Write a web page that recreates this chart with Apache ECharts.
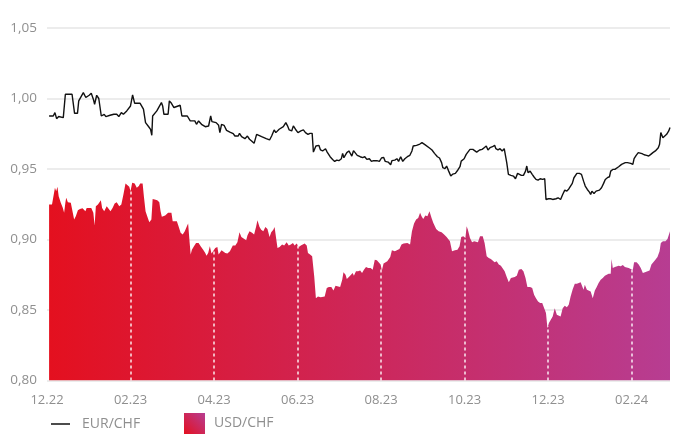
<!DOCTYPE html>
<html>
<head>
<meta charset="utf-8">
<script src="https://cdn.jsdelivr.net/npm/echarts@6/dist/echarts.min.js"></script>
<style>
html,body{margin:0;padding:0;background:#fff;}
#chart{width:677px;height:434px;}
</style>
</head>
<body>
<div id="chart"></div>
<script>
// x values: months since 01.12.2022
const xTickLabels = ['12.22','02.23','04.23','06.23','08.23','10.23','12.23','02.24'];
const yTicks = [0.80, 0.85, 0.90, 0.95, 1.00, 1.05];

const eurX = [0.05,0.15,0.19,0.23,0.28,0.39,0.44,0.47,0.60,0.66,0.73,0.76,0.87,0.93,0.97,1.01,1.06,1.11,1.14,1.19,1.24,1.30,1.37,1.41,1.51,1.60,1.67,1.72,1.78,1.83,1.91,2.00,2.05,2.10,2.23,2.31,2.36,2.44,2.48,2.51,2.53,2.63,2.74,2.77,2.80,2.90,2.93,2.98,3.04,3.19,3.23,3.36,3.43,3.47,3.54,3.58,3.63,3.70,3.79,3.87,3.92,3.95,4.05,4.11,4.14,4.18,4.24,4.30,4.38,4.46,4.50,4.58,4.61,4.66,4.74,4.80,4.85,4.90,4.96,5.02,5.06,5.14,5.25,5.33,5.38,5.44,5.48,5.56,5.66,5.72,5.76,5.80,5.86,5.90,5.95,6.01,6.08,6.14,6.19,6.25,6.30,6.35,6.38,6.44,6.51,6.55,6.60,6.67,6.71,6.78,6.84,6.89,6.94,6.99,7.05,7.08,7.11,7.15,7.18,7.23,7.27,7.30,7.34,7.38,7.43,7.50,7.56,7.61,7.66,7.72,7.77,7.82,7.90,7.96,8.01,8.06,8.10,8.17,8.23,8.26,8.33,8.38,8.42,8.47,8.52,8.57,8.63,8.69,8.74,8.77,8.85,8.93,8.98,9.05,9.09,9.16,9.22,9.28,9.35,9.40,9.45,9.48,9.53,9.57,9.62,9.67,9.72,9.78,9.84,9.89,9.92,9.99,10.04,10.08,10.13,10.20,10.24,10.29,10.36,10.42,10.47,10.52,10.56,10.61,10.67,10.72,10.75,10.80,10.85,10.90,10.95,10.98,11.01,11.05,11.11,11.17,11.22,11.27,11.31,11.36,11.41,11.46,11.49,11.52,11.57,11.62,11.66,11.71,11.76,11.81,11.87,11.92,11.95,12.01,12.06,12.11,12.14,12.19,12.24,12.30,12.35,12.40,12.45,12.50,12.53,12.58,12.62,12.69,12.75,12.80,12.85,12.89,12.94,12.99,13.02,13.05,13.10,13.15,13.23,13.28,13.33,13.37,13.42,13.47,13.50,13.55,13.60,13.64,13.69,13.76,13.80,13.85,13.90,13.93,13.98,14.03,14.06,14.11,14.16,14.20,14.25,14.30,14.36,14.41,14.46,14.51,14.57,14.64,14.67,14.70,14.73,14.75,14.79,14.84,14.89,14.92];
const eurY = [0.9876,0.9876,0.9900,0.9857,0.9872,0.9864,1.0030,1.0037,1.0030,0.9895,0.9895,0.9983,1.0042,1.0007,1.0007,1.0023,1.0037,0.9995,0.9959,1.0023,1.0000,0.9876,0.9888,0.9872,0.9881,0.9888,0.9888,0.9872,0.9900,0.9888,0.9912,0.9947,1.0026,0.9966,0.9966,0.9924,0.9829,0.9798,0.9781,0.9739,0.9876,0.9912,0.9971,0.9947,0.9888,0.9888,0.9983,0.9966,0.9936,0.9952,0.9876,0.9876,0.9841,0.9829,0.9841,0.9817,0.9841,0.9817,0.9800,0.9805,0.9876,0.9836,0.9829,0.9810,0.9758,0.9817,0.9810,0.9774,0.9762,0.9751,0.9734,0.9734,0.9753,0.9729,0.9715,0.9734,0.9711,0.9699,0.9682,0.9746,0.9758,0.9729,0.9715,0.9706,0.9734,0.9777,0.9758,0.9782,0.9801,0.9829,0.9806,0.9777,0.9770,0.9806,0.9782,0.9758,0.9770,0.9777,0.9758,0.9746,0.9753,0.9753,0.9620,0.9663,0.9668,0.9635,0.9628,0.9644,0.9620,0.9587,0.9568,0.9554,0.9563,0.9559,0.9573,0.9611,0.9580,0.9592,0.9616,0.9628,0.9620,0.9592,0.9630,0.9620,0.9597,0.9587,0.9580,0.9587,0.9568,0.9573,0.9554,0.9559,0.9559,0.9554,0.9578,0.9583,0.9554,0.9549,0.9530,0.9559,0.9563,0.9573,0.9554,0.9587,0.9554,0.9573,0.9587,0.9597,0.9628,0.9663,0.9668,0.9677,0.9687,0.9673,0.9663,0.9649,0.9635,0.9611,0.9587,0.9578,0.9545,0.9509,0.9502,0.9521,0.9485,0.9450,0.9464,0.9469,0.9493,0.9516,0.9556,0.9573,0.9604,0.9620,0.9639,0.9639,0.9635,0.9620,0.9635,0.9639,0.9651,0.9663,0.9635,0.9651,0.9658,0.9668,0.9644,0.9635,0.9644,0.9628,0.9644,0.9635,0.9545,0.9462,0.9455,0.9450,0.9431,0.9469,0.9474,0.9455,0.9455,0.9485,0.9521,0.9474,0.9485,0.9462,0.9445,0.9426,0.9421,0.9431,0.9426,0.9431,0.9284,0.9289,0.9289,0.9284,0.9296,0.9289,0.9296,0.9284,0.9319,0.9350,0.9343,0.9360,0.9350,0.9398,0.9438,0.9469,0.9469,0.9462,0.9414,0.9379,0.9355,0.9336,0.9319,0.9343,0.9326,0.9343,0.9350,0.9367,0.9398,0.9426,0.9438,0.9445,0.9485,0.9497,0.9497,0.9509,0.9516,0.9533,0.9540,0.9545,0.9545,0.9554,0.9540,0.9533,0.9573,0.9597,0.9616,0.9620,0.9609,0.9601,0.9597,0.9592,0.9604,0.9616,0.9628,0.9651,0.9675,0.9758,0.9770,0.9722,0.9734,0.9746,0.9770,0.9794];

const usdX = [0.05,0.12,0.19,0.22,0.25,0.28,0.33,0.38,0.41,0.44,0.46,0.50,0.57,0.61,0.65,0.69,0.74,0.79,0.85,0.89,0.92,0.95,1.00,1.06,1.11,1.14,1.17,1.22,1.29,1.32,1.37,1.40,1.43,1.48,1.52,1.57,1.62,1.67,1.73,1.78,1.83,1.88,1.92,1.97,2.00,2.04,2.07,2.10,2.15,2.20,2.23,2.26,2.29,2.32,2.36,2.40,2.45,2.50,2.53,2.58,2.64,2.69,2.72,2.75,2.79,2.83,2.90,2.93,2.98,3.01,3.04,3.11,3.15,3.20,3.25,3.30,3.35,3.38,3.41,3.44,3.47,3.52,3.57,3.63,3.68,3.74,3.79,3.82,3.86,3.90,3.94,3.98,4.03,4.08,4.11,4.14,4.18,4.22,4.27,4.32,4.38,4.45,4.51,4.56,4.61,4.655,4.70,4.77,4.80,4.85,4.91,4.96,5.01,5.04,5.09,5.13,5.18,5.23,5.28,5.33,5.37,5.42,5.45,5.52,5.57,5.63,5.68,5.71,5.74,5.79,5.84,5.89,5.93,5.98,6.03,6.08,6.12,6.17,6.22,6.25,6.30,6.35,6.40,6.44,6.49,6.555,6.60,6.65,6.70,6.75,6.81,6.86,6.91,6.955,7.02,7.07,7.10,7.15,7.18,7.23,7.27,7.32,7.35,7.40,7.45,7.50,7.545,7.59,7.64,7.69,7.75,7.80,7.85,7.90,7.945,7.99,8.02,8.06,8.10,8.15,8.22,8.26,8.33,8.38,8.44,8.49,8.54,8.58,8.63,8.66,8.695,8.74,8.79,8.84,8.89,8.935,8.97,9.01,9.06,9.11,9.16,9.21,9.25,9.32,9.38,9.45,9.51,9.57,9.65,9.70,9.77,9.83,9.88,9.92,9.97,10.02,10.05,10.08,10.13,10.18,10.23,10.275,10.32,10.37,10.435,10.48,10.53,10.58,10.63,10.675,10.72,10.77,10.82,10.87,10.915,10.96,11.01,11.06,11.11,11.15,11.20,11.25,11.30,11.36,11.41,11.46,11.505,11.57,11.62,11.665,11.71,11.76,11.81,11.86,11.905,11.95,11.985,12.02,12.06,12.11,12.16,12.21,12.255,12.30,12.35,12.40,12.45,12.495,12.54,12.59,12.64,12.69,12.735,12.78,12.815,12.85,12.88,12.93,12.97,13.02,13.07,13.12,13.165,13.21,13.26,13.31,13.36,13.405,13.45,13.50,13.52,13.55,13.60,13.645,13.69,13.74,13.79,13.84,13.885,13.93,13.98,14.03,14.06,14.12,14.17,14.22,14.27,14.32,14.36,14.43,14.475,14.52,14.57,14.62,14.67,14.70,14.75,14.81,14.86,14.92];
const usdY = [0.9248,0.9248,0.9367,0.9343,0.9374,0.9307,0.9260,0.9224,0.9189,0.9260,0.9296,0.9265,0.9260,0.9260,0.9142,0.9165,0.9208,0.9217,0.9222,0.9217,0.9201,0.9224,0.9224,0.9224,0.9189,0.9099,0.9236,0.9248,0.9279,0.9224,0.9201,0.9189,0.9236,0.9217,0.9201,0.9224,0.9255,0.9265,0.9236,0.9248,0.9319,0.9398,0.9390,0.9374,0.9343,0.9402,0.9407,0.9398,0.9367,0.9379,0.9398,0.9402,0.9398,0.9307,0.9201,0.9165,0.9123,0.9142,0.9288,0.9284,0.9279,0.9265,0.9201,0.9161,0.9170,0.9170,0.9189,0.9201,0.9189,0.9130,0.9123,0.9130,0.9094,0.9047,0.9035,0.9059,0.9094,0.9113,0.9000,0.8893,0.8928,0.8952,0.8976,0.8976,0.8952,0.8928,0.8904,0.8885,0.8904,0.8952,0.8900,0.8909,0.8940,0.8947,0.8893,0.8900,0.8923,0.8916,0.8904,0.8900,0.8916,0.8957,0.8957,0.8980,0.9051,0.9018,0.9004,0.8995,0.9028,0.9059,0.9047,0.9035,0.9094,0.9137,0.9089,0.9070,0.9059,0.9089,0.9075,0.9018,0.9051,0.9070,0.9089,0.8940,0.8947,0.8964,0.8957,0.8971,0.8980,0.8957,0.8964,0.8976,0.8957,0.8971,0.8947,0.8957,0.8964,0.8971,0.8957,0.8904,0.8893,0.8881,0.8738,0.8584,0.8596,0.8591,0.8577,0.8596,0.8656,0.8663,0.8663,0.8639,0.8672,0.8663,0.8663,0.8715,0.8767,0.8750,0.8720,0.8734,0.8743,0.8762,0.8743,0.8774,0.8774,0.8781,0.8762,0.8786,0.8805,0.8798,0.8798,0.8786,0.8857,0.8852,0.8838,0.8822,0.8781,0.8829,0.8838,0.8845,0.8876,0.8923,0.8916,0.8923,0.8933,0.8964,0.8971,0.8971,0.8976,0.8980,0.8964,0.9059,0.9113,0.9142,0.9153,0.9189,0.9165,0.9146,0.9170,0.9165,0.9201,0.9153,0.9118,0.9075,0.9059,0.9051,0.9035,0.9018,0.8987,0.8916,0.8923,0.8928,0.8952,0.9018,0.9023,0.9011,0.9094,0.9070,0.9011,0.8980,0.8987,0.8999,0.8980,0.9023,0.9023,0.8976,0.8881,0.8869,0.8862,0.8852,0.8838,0.8845,0.8822,0.8814,0.8810,0.8774,0.8734,0.8696,0.8727,0.8734,0.8734,0.8743,0.8786,0.8791,0.8774,0.8727,0.8663,0.8663,0.8656,0.8608,0.8584,0.8561,0.8549,0.8549,0.8544,0.8478,0.8371,0.8407,0.8411,0.8454,0.8513,0.8466,0.8459,0.8454,0.8513,0.8530,0.8520,0.8537,0.8596,0.8648,0.8686,0.8686,0.8686,0.8696,0.8710,0.8644,0.8679,0.8644,0.8632,0.8632,0.8584,0.8639,0.8663,0.8691,0.8715,0.8727,0.8743,0.8750,0.8757,0.8757,0.8862,0.8798,0.8805,0.8798,0.8814,0.8810,0.8819,0.8805,0.8810,0.8798,0.8791,0.8786,0.8838,0.8838,0.8822,0.8798,0.8762,0.8767,0.8781,0.8781,0.8822,0.8833,0.8857,0.8876,0.8916,0.8976,0.8987,0.8987,0.9004,0.9059];

const eurData = eurX.map((x, i) => [x, eurY[i]]);
const usdData = usdX.map((x, i) => [x, usdY[i]]);

// value of USD series at a given x (for the dashed month markers that stop at the area edge)
function usdAt(x) {
  for (let i = 1; i < usdX.length; i++) {
    if (usdX[i] >= x) {
      const t = (x - usdX[i - 1]) / (usdX[i] - usdX[i - 1]);
      return usdY[i - 1] + t * (usdY[i] - usdY[i - 1]);
    }
  }
  return usdY[usdY.length - 1];
}
const markerX = [2, 4, 6, 8, 10, 12, 14];
const markLines = markerX.map(x => [{coord: [x, 0.80]}, {coord: [x, usdAt(x)]}]);

const areaGradient = new echarts.graphic.LinearGradient(0, 0, 1, 0, [
  {offset: 0, color: '#E4101F'},
  {offset: 1, color: '#B73D92'}
]);
const legendGradient = new echarts.graphic.LinearGradient(0, 1, 1, 0, [
  {offset: 0, color: '#E4101F'},
  {offset: 1, color: '#B73D92'}
]);

const font = '"Open Sans", sans-serif';
const chart = echarts.init(document.getElementById('chart'), null, {renderer: 'canvas'});
chart.setOption({
  animation: false,
  backgroundColor: '#fff',
  grid: {left: 47, right: 7, top: 28, bottom: 53.5},
  legend: [
    {
      left: 46, top: 412,
      itemWidth: 19, itemHeight: 1.5,
      data: [{name: 'EUR/CHF', icon: 'rect', itemStyle: {color: '#111'}}],
      textStyle: {color: '#8f8f8f', fontSize: 14, fontFamily: font, padding: [0, 0, 0, 7]},
      selectedMode: false
    },
    {
      left: 179, top: 408,
      itemWidth: 21, itemHeight: 21,
      data: [{name: 'USD/CHF', icon: 'rect', itemStyle: {color: legendGradient}}],
      textStyle: {color: '#8f8f8f', fontSize: 14, fontFamily: font, padding: [0, 0, 0, 4]},
      selectedMode: false
    }
  ],
  xAxis: {
    type: 'value',
    min: 0, max: 14.92, interval: 2,
    axisLine: {show: false},
    axisTick: {show: false},
    splitLine: {show: false},
    axisLabel: {
      color: '#8f8f8f', fontSize: 13, fontFamily: font, margin: 13,
      showMaxLabel: false,
      formatter: v => {
        const k = Math.round(v / 2);
        return Math.abs(v - k * 2) < 1e-6 && xTickLabels[k] ? xTickLabels[k] : '';
      }
    }
  },
  yAxis: {
    type: 'value',
    min: yTicks[0], max: yTicks[yTicks.length - 1], interval: 0.05,
    axisLine: {show: false},
    axisTick: {show: false},
    splitLine: {lineStyle: {color: '#e6e6e6', width: 1.5}},
    axisLabel: {
      color: '#8f8f8f', fontSize: 13.5, fontFamily: font, margin: 10,
      formatter: v => v.toFixed(2).replace('.', ',')
    }
  },
  series: [
    {
      name: 'USD/CHF',
      type: 'line',
      data: usdData,
      showSymbol: false,
      symbol: 'none',
      z: 2,
      lineStyle: {width: 0, color: areaGradient},
      itemStyle: {color: areaGradient},
      areaStyle: {color: areaGradient, opacity: 1, origin: 'start'},
      markLine: {
        silent: true,
        symbol: 'none',
        label: {show: false},
        lineStyle: {color: '#ffffff', type: [3, 3], width: 1.5, opacity: 0.9},
        data: markLines
      }
    },
    {
      name: 'EUR/CHF',
      type: 'line',
      data: eurData,
      showSymbol: false,
      symbol: 'none',
      z: 3,
      lineStyle: {width: 1.4, color: '#111'},
      itemStyle: {color: '#111'}
    }
  ]
});
</script>
</body>
</html>
